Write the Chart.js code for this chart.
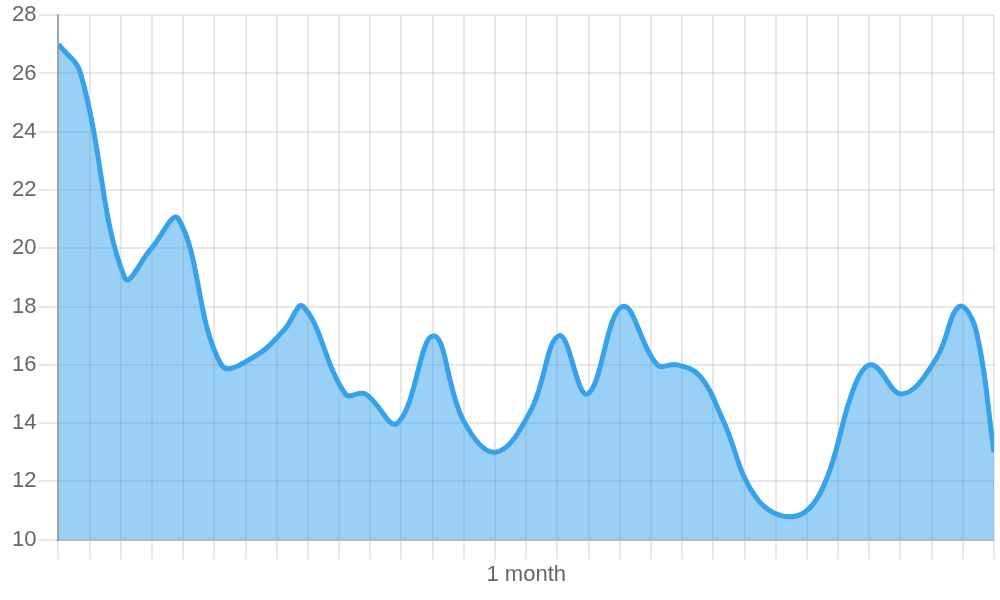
<!DOCTYPE html>
<html>
<head>
<meta charset="utf-8">
<script src="https://cdn.jsdelivr.net/npm/chart.js@4.4.1/dist/chart.umd.min.js"></script>
<style>
html,body{margin:0;padding:0;background:#fff;}
#wrap{width:1000px;height:600px;position:relative;}
</style>
</head>
<body>
<div id="wrap"><canvas id="c"></canvas></div>
<script>
// x positions in days within one month (0..30)
const dayPositions = [0, 0.71, 2.12, 2.98, 3.85, 5.22, 6.31, 7.24, 7.85, 9.20, 9.84, 10.87, 12.02, 12.98, 14.01, 15.13, 16.06, 16.96, 18.08, 19.20, 19.84, 20.58, 21.31, 22.40, 23.62, 24.52, 25.54, 26.09, 27.05, 28.14, 28.88, 29.42, 30];
const seriesValues = [27, 26, 19, 20, 21, 16, 16.3, 17.2, 18, 15, 15, 14, 17, 14.1, 13, 14.4, 17, 15, 18, 16, 16, 15.6, 14.1, 11.4, 10.8, 11.8, 15.3, 16, 15, 16.2, 18, 17.2, 13];
const xAxisTitle = '1 month';
const yTickMin = 10, yTickMax = 28, yTickStep = 2;
const xGridMin = 0, xGridMax = 30, xGridStep = 1;

const points = dayPositions.map((d, i) => ({x: d, y: seriesValues[i]}));
const fontFamily = "'Liberation Sans', Arial, Helvetica, sans-serif";

new Chart(document.getElementById('c'), {
  type: 'line',
  data: {
    datasets: [{
      data: points,
      borderColor: 'rgb(54,162,235)',
      backgroundColor: 'rgba(54,162,235,0.5)',
      borderWidth: 5,
      pointRadius: 0,
      pointHoverRadius: 0,
      tension: 0.4,
      fill: 'start'
    }]
  },
  options: {
    responsive: true,
    maintainAspectRatio: false,
    animation: false,
    layout: {padding: {top: 2, right: 6, left: 10, bottom: 12}},
    plugins: {legend: {display: false}, tooltip: {enabled: false}},
    scales: {
      x: {
        type: 'linear',
        min: xGridMin,
        max: xGridMax,
        ticks: {stepSize: xGridStep, display: false},
        grid: {color: 'rgba(0,0,0,0.09)', lineWidth: 2, tickLength: 20},
        border: {color: 'rgba(0,0,0,0.2)', width: 2},
        title: {display: true, text: xAxisTitle, color: '#666', font: {family: fontFamily, size: 22}, padding: {top: 2, bottom: 0}}
      },
      y: {
        min: yTickMin,
        max: yTickMax,
        ticks: {stepSize: yTickStep, color: '#666', font: {family: fontFamily, size: 22}, padding: 2},
        grid: {color: 'rgba(0,0,0,0.09)', lineWidth: 2, tickLength: 20},
        border: {color: 'rgba(0,0,0,0.3)', width: 2}
      }
    }
  }
});
</script>
</body>
</html>
